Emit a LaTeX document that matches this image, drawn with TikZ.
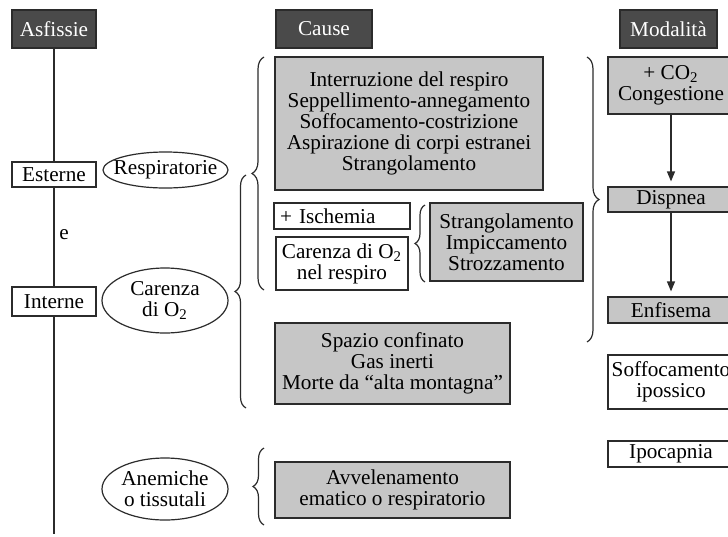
\documentclass[tikz,border=0pt]{standalone}
\usepackage{fontspec}
\setmainfont{Liberation Serif}
\usetikzlibrary{arrows.meta,shapes.geometric,decorations.pathreplacing}
\definecolor{ink}{HTML}{2B2B2B}
\definecolor{darkhead}{HTML}{4A4A4A}
\definecolor{shade}{HTML}{C6C6C6}

\begin{document}
\begin{tikzpicture}[
  x=0.5pt,y=-0.5pt,line width=0.6pt,
  every node/.style={font=\fontsize{10.6}{10.6}\selectfont},
  head/.style={draw=ink,fill=darkhead,text=white,minimum width=#1,
    minimum height=19pt,inner sep=0pt},
  box/.style 2 args={draw=ink,minimum width=#1,minimum height=#2,
    inner xsep=1pt,inner ysep=0pt,align=center},
  gbox/.style 2 args={box={#1}{#2},fill=shade},
  oval/.style 2 args={ellipse,draw=ink,minimum width=#1,minimum height=#2,
    inner xsep=-5pt,inner ysep=0pt,align=center},
  curly/.style={draw=ink,decorate,decoration={brace,amplitude=#1}},
  flow/.style={draw=ink,-{Triangle[length=5pt,width=4pt]},shorten >=2.5pt}]
\useasboundingbox (0,0) rectangle (728,536);
\node[head=42pt] (asf) at (54,29) {Asfissie};
\node[head=48pt] (cau) at (324,29) {Cause};
\node[head=48.5pt] (mod) at (668.5,29) {Modalità};
\node[box={42pt}{12.5pt}] (est) at (54,174.5) {Esterne};
\node[box={42pt}{14.5pt}] (int) at (54,301.5) {Interne};
\node (e) at (64,235) {e};
\coordinate (bot) at (54,534);
\node[oval={62.5pt}{18pt}] (resp) at (165.5,170) {Respiratorie};
\node[oval={63pt}{32.5pt}] (car) at (165,300.5) {Carenza\\di O\textsubscript{2}};
\node[oval={63pt}{31pt}] (anem) at (165,489) {Anemiche\\o tissutali};
\node[gbox={134pt}{66.5pt}] (respc) at (409,123.5) {Interruzione del respiro\\
  Seppellimento-annegamento\\Soffocamento-costrizione\\
  Aspirazione di corpi estranei\\Strangolamento};
\node[box={66pt}{13pt},align=left,text width=62pt,inner xsep=3pt] (isch) at (342,216) {+ Ischemia};
\node[box={66pt}{26.5pt}] (carr) at (342,263.5) {Carenza di O\textsubscript{2}\\nel respiro};
\node[gbox={76.5pt}{39pt}] (strang) at (506.5,242) {Strangolamento\\Impiccamento\\Strozzamento};
\node[gbox={117.5pt}{40.5pt}] (spaz) at (392.5,363.5) {Spazio confinato\\Gas inerti\\
  Morte da “alta montagna”};
\node[gbox={117.5pt}{28pt}] (avv) at (392.5,490) {Avvelenamento\\ematico o respiratorio};
\node[gbox={63pt}{28.5pt}] (cong) at (671,85.5) {+ CO\textsubscript{2}\\Congestione};
\node[gbox={63pt}{12.5pt}] (disp) at (671,199.5) {Dispnea};
\node[gbox={63pt}{13pt}] (enf) at (671,310) {Enfisema};
\node[box={63pt}{27pt}] (soff) at (671,382) {Soffocamento\\ipossico};
\node[box={63pt}{13pt}] (ipo) at (671,454) {Ipocapnia};
\draw[ink] (asf) -- (est);
\draw[ink] (est) -- (int);
\draw[ink] (int) -- (bot);
\draw[flow] (cong) -- (disp);
\draw[flow] (disp) -- (enf);
\draw[curly=6pt] (264,290) -- (264,57);
\draw[curly=5.5pt] (246,408) -- (246,175);
\draw[curly=5.5pt] (264,525) -- (264,448);
\draw[curly=5pt] (425,282) -- (425,205);
\draw[curly=6pt] (587,57) -- (587,342);
\end{tikzpicture}
\end{document}
